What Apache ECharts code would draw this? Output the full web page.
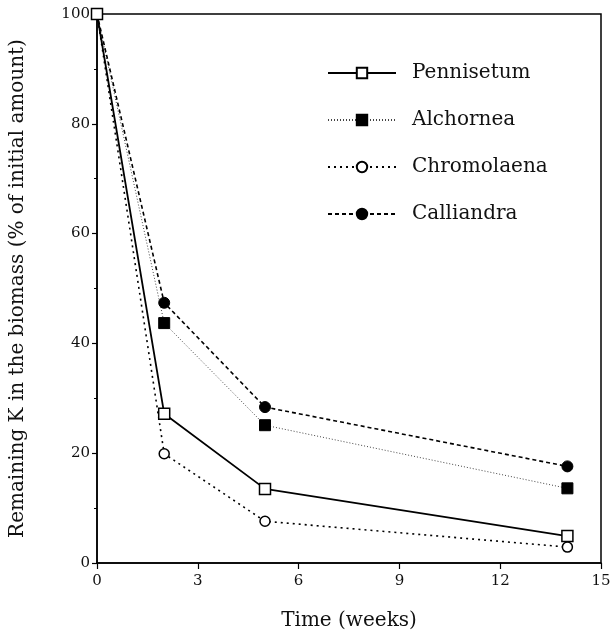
<!DOCTYPE html>
<html>
<head>
<meta charset="utf-8">
<script src="https://cdn.jsdelivr.net/npm/echarts@6/dist/echarts.min.js"></script>
<style>
  html, body { margin: 0; padding: 0; background: #fff; }
  #chart { width: 614px; height: 643px; }
</style>
</head>
<body>
<div id="chart"></div>
<script>
// Sampling times (weeks)
const weeks = [0, 2, 5, 14];

// Remaining K in the biomass (% of initial amount)
const pennisetum  = [100, 27.2, 13.5, 4.9];
const alchornea   = [100, 43.7, 25.1, 13.6];
const chromolaena = [100, 19.9, 7.6, 2.9];
const calliandra  = [100, 47.4, 28.4, 17.6];

const seriesNames = ['Pennisetum', 'Alchornea', 'Chromolaena', 'Calliandra'];

const serif = 'DejaVu Serif, Liberation Serif, serif';

function pairs(values) {
  return weeks.map((w, i) => [w, values[i]]);
}

const chart = echarts.init(document.getElementById('chart'), null, { renderer: 'canvas' });

chart.setOption({
  animation: false,
  backgroundColor: '#fff',
  grid: {
    left: 97, right: 13, top: 14, bottom: 80,
    show: true, borderColor: '#000', borderWidth: 1.5,
    containLabel: false,
    outerBoundsMode: 'none'
  },
  legend: {
    left: 322, top: 58,
    orient: 'vertical',
    itemWidth: 68, itemHeight: 13, itemGap: 27,
    data: seriesNames,
    textStyle: { fontFamily: serif, fontSize: 20, lineHeight: 20, color: '#111', padding: [0, 0, 0, 11] }
  },
  xAxis: {
    type: 'value', min: 0, max: 15, interval: 3,
    name: 'Time (weeks)', nameLocation: 'middle', nameGap: 48,
    nameTextStyle: { fontFamily: serif, fontSize: 20, color: '#111' },
    axisLine: { onZero: false, lineStyle: { color: '#000', width: 1.5 } },
    axisTick: { show: true, length: 6, lineStyle: { color: '#000', width: 1.2 } },
    axisLabel: { fontFamily: serif, fontSize: 15, color: '#111', margin: 11 },
    splitLine: { show: false }
  },
  yAxis: {
    type: 'value', min: 0, max: 100, interval: 20,
    name: 'Remaining K in the biomass (% of initial amount)',
    nameLocation: 'middle', nameGap: 69, nameRotate: 90,
    nameTextStyle: { fontFamily: serif, fontSize: 20, color: '#111' },
    axisLine: { onZero: false, lineStyle: { color: '#000', width: 1.5 } },
    axisTick: { show: true, length: 5, lineStyle: { color: '#000', width: 1.2 } },
    minorTick: { show: true, splitNumber: 2, length: 3, lineStyle: { color: '#000', width: 1 } },
    axisLabel: { fontFamily: serif, fontSize: 15, color: '#111', margin: 7 },
    splitLine: { show: false }
  },
  series: [
    {
      name: seriesNames[0], type: 'line', data: pairs(pennisetum),
      symbol: 'rect', symbolSize: 11,
      lineStyle: { color: '#000', width: 1.8, type: 'solid' },
      itemStyle: { color: '#fff', borderColor: '#000', borderWidth: 1.5 },
      z: 4
    },
    {
      name: seriesNames[1], type: 'line', data: pairs(alchornea),
      symbol: 'rect', symbolSize: 11,
      lineStyle: { color: '#444', width: 1, type: [1, 2] },
      itemStyle: { color: '#000', borderColor: '#000', borderWidth: 1 },
      z: 3
    },
    {
      name: seriesNames[2], type: 'line', data: pairs(chromolaena),
      symbol: 'circle', symbolSize: 10,
      lineStyle: { color: '#000', width: 1.6, type: [2, 4] },
      itemStyle: { color: '#fff', borderColor: '#000', borderWidth: 1.5 },
      z: 3
    },
    {
      name: seriesNames[3], type: 'line', data: pairs(calliandra),
      symbol: 'circle', symbolSize: 11,
      lineStyle: { color: '#000', width: 1.6, type: [4, 3] },
      itemStyle: { color: '#000', borderColor: '#000', borderWidth: 1 },
      z: 3
    }
  ]
});
</script>
</body>
</html>
